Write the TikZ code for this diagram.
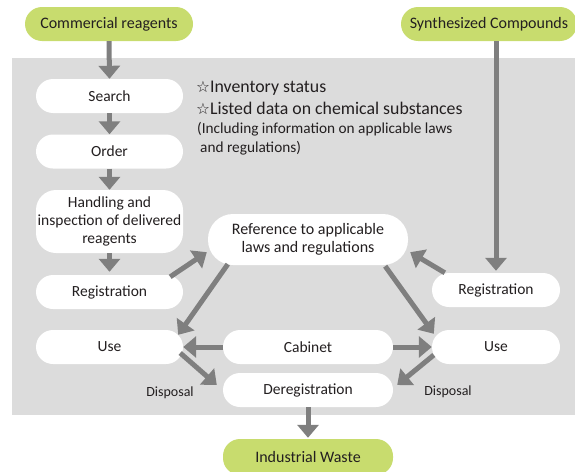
\documentclass[tikz,border=0pt]{standalone}
\usepackage{fontspec}
\setmainfont{Carlito}
\newfontfamily\symfont{DejaVu Sans}
\usetikzlibrary{arrows.meta,calc}
\definecolor{panelgray}{HTML}{DCDCDC}
\definecolor{flowgray}{HTML}{7F7F7F}
\definecolor{leafgreen}{HTML}{C8DC6E}
\definecolor{inkdark}{HTML}{231F20}
\tikzset{
  box/.style={fill=white, rounded corners=17pt, minimum height=34pt, inner sep=0pt,
    text=inkdark, font=\fontsize{15.5}{18}\selectfont, align=center},
  endpoint/.style={fill=leafgreen, rounded corners=17pt, minimum height=34pt, inner sep=0pt,
    text=inkdark, font=\fontsize{16}{19}\selectfont},
  flow/.style={draw=flowgray, line width=5pt, -{Triangle[width=21pt,length=13pt]}},
  note/.style={anchor=west, inner sep=0pt, text=inkdark},
  remark/.style={inner sep=0pt, text=inkdark, font=\fontsize{14}{16}\selectfont},
}
\begin{document}
\begin{tikzpicture}[x=1pt,y=-1pt]
  \useasboundingbox (0,0) rectangle (575,471);
  \clip (0,0) rectangle (575,471);
  % shaded working area
  \fill[panelgray] (12,58) rectangle (576,415);

  % start and end points
  \node[endpoint, minimum width=168pt] (cr) at (109,24) {Commercial reagents};
  \node[endpoint, minimum width=176pt] (sc) at (489,24) {Synthesized Compounds};
  \node[endpoint, minimum width=170pt, minimum height=36pt] (waste) at (308,457) {Industrial Waste};

  % left column
  \node[box, minimum width=147pt] (search) at (109.5,96) {Search};
  \node[box, minimum width=147pt] (order) at (109.5,151.5) {Order};
  \node[box, minimum width=147pt, minimum height=63pt, rounded corners=20pt] (handling) at (109.5,221.5)
    {Handling and\\inspection of delivered\\reagents};
  \node[box, minimum width=147pt] (regL) at (109.5,292) {Registration};
  \node[box, minimum width=147pt] (useL) at (109.5,347) {Use};

  % centre column
  \node[box, minimum width=200pt, minimum height=51pt, rounded corners=25pt] (ref) at (308,239.5)
    {\fontsize{16}{18}\selectfont Reference to applicable\\\fontsize{16}{18}\selectfont laws and regulations};
  \node[box, minimum width=170pt] (cab) at (308,347) {Cabinet};
  \node[box, minimum width=170pt] (dereg) at (308,390) {Deregistration};

  % right column
  \node[box, minimum width=128pt] (regR) at (496,290) {Registration};
  \node[box, minimum width=128pt] (useR) at (496,347) {Use};

  % notes on the search step
  \node[note, font=\fontsize{17.8}{20}\selectfont] (n1) at (196,88) {{\symfont\fontsize{15.5}{18}\selectfont ☆}Inventory status};
  \node[note, font=\fontsize{17.8}{20}\selectfont] (n2) at (196,108) {{\symfont\fontsize{15.5}{18}\selectfont ☆}Listed data on chemical substances};
  \node[note, font=\fontsize{15.3}{18}\selectfont] (n3) at (197,129) {(Including information on applicable laws};
  \node[note, font=\fontsize{15.3}{18}\selectfont] (n4) at (200,148) {and regulations)};

  % flow arrows
  \draw[flow] (cr.south) -- (search.north);
  \draw[flow] (search.south) -- (order.north);
  \draw[flow] (order.south) -- (handling.north);
  \draw[flow] (handling.south) -- ($(regL.north)+(0,-3)$);
  \draw[flow] (sc.south -| regR.north) -- ($(regR.north)+(0,-2)$);
  \draw[flow] ($(regL.north east)+(-13,2)$) -- ($(ref.south west)+(-1,-13)$);
  \draw[flow] ($(regR.north west)+(13,0)$) -- ($(ref.south east)+(2,-13)$);
  \draw[flow] ($(ref.south west)+(20,-1)$) -- ($(useL.north east)+(-5,5)$);
  \draw[flow] ($(ref.south east)+(-23,1)$) -- ($(useR.north west)+(2,4)$);
  \draw[flow] (cab.west) -- (useL.east);
  \draw[flow] (cab.east) -- (useR.west);
  \draw[flow] ($(useL.east)+(-3,6)$) -- ($(dereg.west)+(-6,-5)$);
  \draw[flow] ($(useR.west)+(2,8)$) -- ($(dereg.east)+(4,-5)$);
  \draw[flow] (dereg.south) -- ($(waste.north)+(0,-1)$);

  % disposal labels
  \node[remark] (dispL) at (170,393) {Disposal};
  \node[remark] (dispR) at (448,392) {Disposal};
\end{tikzpicture}
\end{document}
